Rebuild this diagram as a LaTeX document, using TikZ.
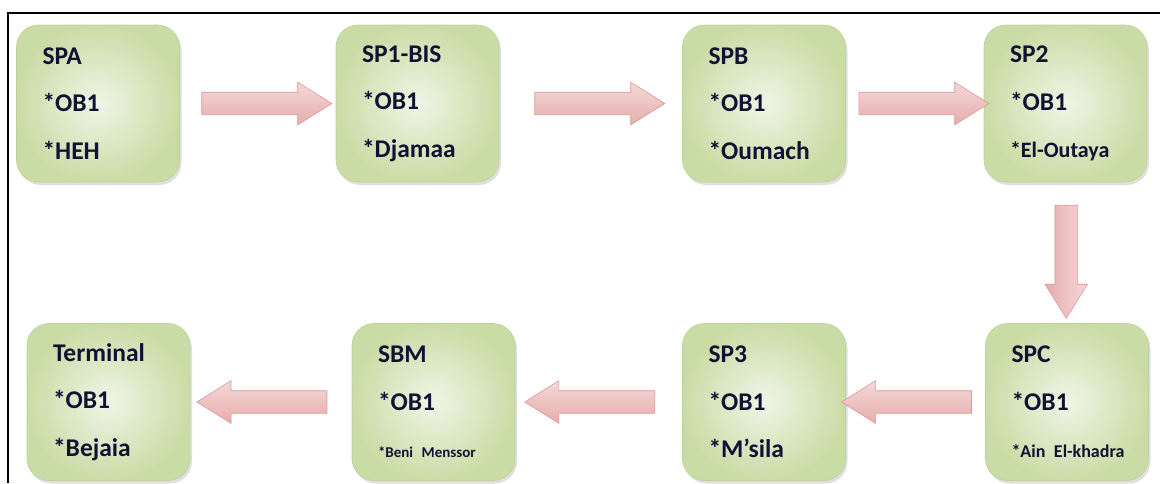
\documentclass[tikz,border=0pt]{standalone}
\usepackage{fontspec}
\setmainfont{Carlito}
\usetikzlibrary{shapes.arrows,shadows,calc}
\definecolor{boxin}{HTML}{F0F5E6}
\definecolor{boxout}{HTML}{CADCA6}
\definecolor{boxline}{HTML}{BDD296}
\definecolor{arrtop}{HTML}{F5D8D8}
\definecolor{arrbot}{HTML}{E7ACAC}
\definecolor{arrline}{HTML}{D9989A}
\definecolor{txt}{HTML}{111133}
\tikzset{
  station/.style={rectangle, rounded corners=22pt, minimum width=163pt, minimum height=157pt,
    text width=111pt, inner xsep=26pt, align=left, draw=boxline, line width=0.6pt,
    inner color=boxin, outer color=boxout,
    drop shadow={shadow xshift=2pt, shadow yshift=-3pt, opacity=0.25},
    font=\bfseries\fontsize{25.5}{47.5}\selectfont, text=txt},
  flow/.style={single arrow, minimum height=130pt, inner sep=11pt,
    single arrow head extend=10pt, single arrow tip angle=64,
    draw=arrline, line width=0.6pt, top color=arrtop, bottom color=arrbot}
}
\begin{document}
\begin{tikzpicture}[x=1pt,y=-1pt]
\useasboundingbox (0,0) rectangle (1160,483);
\draw[line width=1.6pt] (8,483) -- (8,13) -- (1160,13);
\node[station] (spa) at (98,103.5) {SPA\\{}*OB1\\{}*HEH};
\node[station] (sp1) at (417.5,103.5) {SP1-BIS\\{}*OB1\\{}*Djamaa};
\node[station] (spb) at (764,103.5) {SPB\\{}*OB1\\{}*Oumach};
\node[station] (sp2) at (1065.5,103.5) {SP2\\{}*OB1\\{\fontsize{22}{47.5}\selectfont *El-Outaya}};
\node[station] (spc) at (1067,402) {SPC\\{}*OB1\\\mbox{\fontsize{18}{47.5}\selectfont *Ain El-khadra}};
\node[station] (sp3) at (764,402) {SP3\\{}*OB1\\{}*M’sila};
\node[station] (sbm) at (433.5,402) {SBM\\{}*OB1\\{\fontsize{15}{47.5}\selectfont *Beni Menssor}};
\node[station] (term) at (108.5,402) {Terminal\\{}*OB1\\{}*Bejaia};
\node[flow] (a1) at ($(spa.east)!0.5!(sp1.west)$) {};
\node[flow] (a2) at ($(sp1.east)!0.5!(spb.west)$) {};
\node[flow] (a3) at ($(spb.east)!0.5!(sp2.west)$) {};
\node[flow, shape border rotate=270, minimum height=113pt, left color=arrbot, right color=arrtop] (a4) at ($(sp2.south)!0.5!(spc.north)$) {};
\node[flow, shape border rotate=180] (a5) at ($(spc.west)!0.5!(sp3.east)$) {};
\node[flow, shape border rotate=180] (a6) at ($(sp3.west)!0.5!(sbm.east)$) {};
\node[flow, shape border rotate=180] (a7) at ($(sbm.west)!0.5!(term.east)$) {};
\end{tikzpicture}
\end{document}
